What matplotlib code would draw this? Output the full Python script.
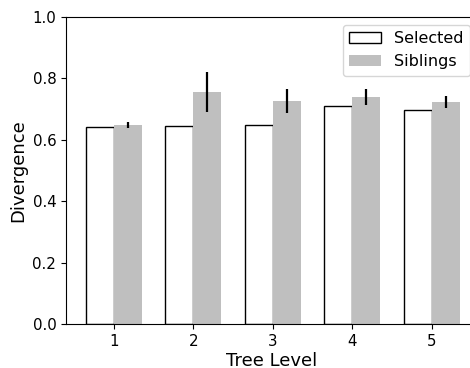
import matplotlib
matplotlib.use("Agg")
import matplotlib.pyplot as plt
import numpy as np

levels = [1, 2, 3, 4, 5]
selected = [0.643, 0.645, 0.647, 0.709, 0.696]
siblings = [0.648, 0.757, 0.727, 0.739, 0.723]
siblings_err = [0.009, 0.065, 0.040, 0.025, 0.020]

W, H = 470, 368
fig = plt.figure(figsize=(W / 100, H / 100), dpi=100)
ax = fig.add_axes([66 / W, (H - 324) / H, (478 - 66) / W, (324 - 17) / H])

x = np.array(levels, dtype=float)
width = 0.35
ax.bar(x - width / 2, selected, width, facecolor="white", edgecolor="black",
       linewidth=1.0, label="Selected")
ax.bar(x + width / 2, siblings, width, color="#bfbfbf", label="Siblings",
       yerr=siblings_err, error_kw=dict(ecolor="black", elinewidth=1.6, capsize=0))

ax.set_xlim(0.4, 5.58)
ax.set_ylim(0, 1.0)
ax.set_xticks(levels)
ax.set_yticks([0.0, 0.2, 0.4, 0.6, 0.8, 1.0])
ax.tick_params(labelsize=10.8)
ax.set_xlabel("Tree Level", fontsize=13, labelpad=2)
ax.set_ylabel("Divergence", fontsize=13)
ax.legend(loc="upper right", fontsize=11.5)

fig.savefig("out.png", dpi=100)
